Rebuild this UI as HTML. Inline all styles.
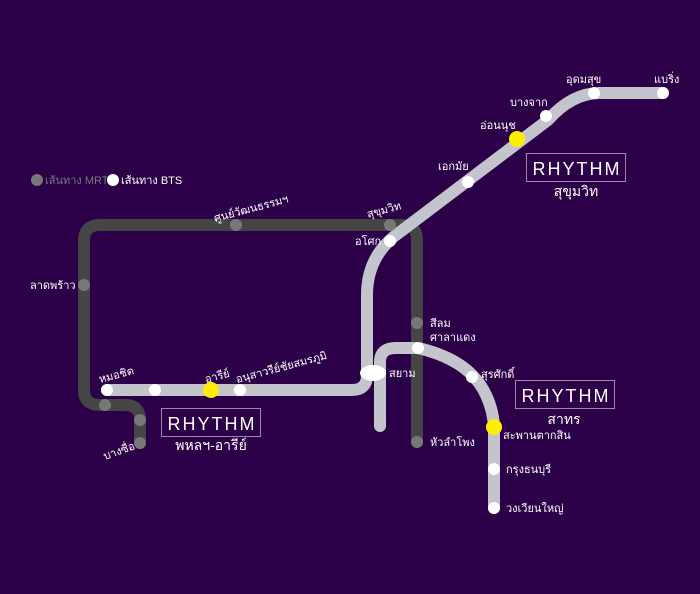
<!DOCTYPE html>
<html><head><meta charset="utf-8"><style>
html,body{margin:0;padding:0;background:#2c0049;}
svg{display:block}
text{font-family:"Liberation Sans","DejaVu Sans",sans-serif;fill:#fff;font-size:11px}
</style></head><body>
<svg width="700" height="594" viewBox="0 0 700 594">
<rect width="700" height="594" fill="#2c0049"/>
<!-- MRT -->
<g fill="none" stroke="#454545" stroke-width="12" stroke-linecap="round" stroke-linejoin="round">
<path d="M390 225 H100 Q84 225 84 241 V390 Q84 405 100 405 H125 Q140 405 140 420 V443"/>
<path d="M390 225 H403 Q417 225 417 240 V442"/>
</g>
<!-- BTS -->
<g fill="none" stroke="#c4c4cc" stroke-width="12" stroke-linecap="round" stroke-linejoin="round">
<path d="M107 390 H352 Q367 390 367 375 V295 Q367 255 400 232 L548 120 Q572 93 600 93 H663"/>
<path d="M380 426 V362 Q380 348 396 348 H418 Q470 360 486 395 Q494 412 494 430 V508"/>
</g>
<!-- MRT stations -->
<g fill="#777">
<circle cx="236" cy="225" r="6"/><circle cx="84" cy="285" r="6"/><circle cx="105" cy="405" r="6"/>
<circle cx="140" cy="420" r="6"/><circle cx="140" cy="443" r="6"/><circle cx="390" cy="225" r="6"/>
<circle cx="417" cy="323" r="6"/><circle cx="417" cy="442" r="6"/>
<circle cx="37" cy="180" r="6"/>
</g>
<!-- BTS stations -->
<g fill="#fff">
<circle cx="107" cy="390" r="6"/><circle cx="155" cy="390" r="6"/><circle cx="240" cy="390" r="6"/>
<circle cx="390" cy="241" r="6"/><circle cx="468" cy="182" r="6"/><circle cx="546" cy="116" r="6"/>
<circle cx="594" cy="93" r="6"/><circle cx="663" cy="93" r="6"/><circle cx="418" cy="348" r="6"/>
<circle cx="472" cy="377" r="6"/><circle cx="494" cy="469" r="6"/><circle cx="494" cy="508" r="6"/>
<ellipse cx="373" cy="373" rx="13" ry="8"/>
<circle cx="113" cy="180" r="6"/>
</g>
<g fill="#ffee00">
<circle cx="211" cy="390" r="8"/><circle cx="517" cy="139" r="8"/><circle cx="494" cy="427" r="8"/>
</g>
<!-- legend -->
<text x="45" y="184" fill="#777" style="fill:#777">เส้นทาง MRT</text>
<text x="121" y="184">เส้นทาง BTS</text>
<!-- labels -->
<text x="215" y="222" transform="rotate(-15 215 222)">ศูนย์วัฒนธรรมฯ</text>
<text x="30" y="289">ลาดพร้าว</text>
<text x="100" y="383" transform="rotate(-15 100 383)">หมอชิต</text>
<text x="206" y="383" transform="rotate(-15 206 383)">อารีย์</text>
<text x="237" y="383" transform="rotate(-15 237 383)">อนุสาวรีย์ชัยสมรภูมิ</text>
<text x="105" y="460" transform="rotate(-20 105 460)">บางซื่อ</text>
<text x="368" y="218" transform="rotate(-15 368 218)">สุขุมวิท</text>
<text x="355" y="245">อโศก</text>
<text x="430" y="327">สีลม</text>
<text x="430" y="341">ศาลาแดง</text>
<text x="389" y="377">สยาม</text>
<text x="481" y="378">สุรศักดิ์</text>
<text x="503" y="439">สะพานตากสิน</text>
<text x="506" y="473">กรุงธนบุรี</text>
<text x="506" y="512">วงเวียนใหญ่</text>
<text x="430" y="446">หัวลำโพง</text>
<text x="438" y="170">เอกมัย</text>
<text x="480" y="129">อ่อนนุช</text>
<text x="510" y="106">บางจาก</text>
<text x="566" y="83">อุดมสุข</text>
<text x="654" y="83">แบริ่ง</text>
<!-- RHYTHM boxes -->
<g fill="none" stroke="#9a8aa8" stroke-width="1">
<rect x="161.5" y="408.5" width="99" height="28"/>
<rect x="515.5" y="380.5" width="99" height="28"/>
<rect x="526.5" y="153.5" width="99" height="28"/>
</g>
<g style="font-size:18px;letter-spacing:2px" text-anchor="middle">
<text x="212" y="430" style="font-size:18px">RHYTHM</text>
<text x="566" y="402" style="font-size:18px">RHYTHM</text>
<text x="577" y="175" style="font-size:18px">RHYTHM</text>
</g>
<g text-anchor="middle">
<text x="211" y="450" style="font-size:14px">พหลฯ-อารีย์</text>
<text x="564" y="424" style="font-size:14px">สาทร</text>
<text x="576" y="196" style="font-size:14px">สุขุมวิท</text>
</g>
</svg>
</body></html>
